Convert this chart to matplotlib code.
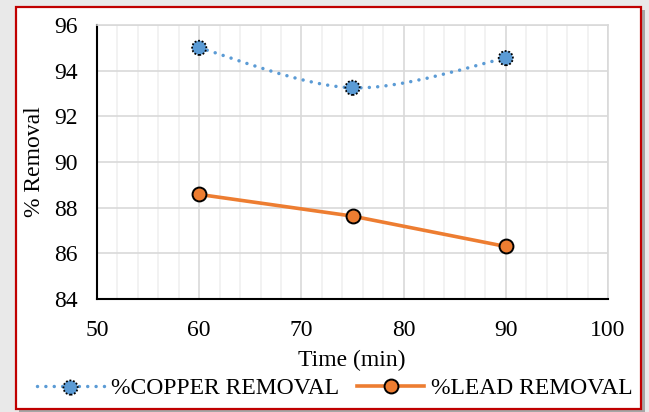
import numpy as np
import matplotlib.pyplot as plt
from matplotlib.path import Path
from matplotlib.patches import PathPatch, Rectangle
from matplotlib.lines import Line2D

plt.rcParams['font.family'] = ['Liberation Serif', 'DejaVu Serif']

# data
time_min = [60, 75, 90]
copper_removal = [95.0, 93.25, 94.55]
lead_removal = [88.58, 87.63, 86.3]

blue = '#5B9BD5'
orange = '#ED7D31'
fs = 17

fig = plt.figure(figsize=(6.49, 4.12), dpi=100)
fig.patch.set_facecolor('#E9E9E9')

# shadow and red frame of the chart box
W, H = 649, 412
fig.patches.append(Rectangle((19 / W, 1 - 412 / H), 626 / W, 402 / H,
                             transform=fig.transFigure, facecolor='#A6A6A6',
                             edgecolor='none', zorder=0))
fig.patches.append(Rectangle((16 / W, 1 - 409 / H), 625 / W, 402 / H,
                             transform=fig.transFigure, facecolor='white',
                             edgecolor='#C00000', linewidth=1.6, zorder=0))

ax = fig.add_axes([97 / W, 1 - 299 / H, 511 / W, 274 / H], zorder=2)
ax.set_facecolor('white')
ax.set_xlim(50, 100)
ax.set_ylim(84, 96)
ax.set_xticks(np.arange(50, 101, 10))
ax.set_xticks(np.arange(50, 101, 2), minor=True)
ax.set_yticks(np.arange(84, 97, 2))
ax.grid(which='major', color='#D9D9D9', linewidth=1.2)
ax.grid(which='minor', axis='x', color='#F0F0F0', linewidth=1.2)
ax.set_axisbelow(True)
ax.tick_params(which='both', length=0, labelsize=fs)
ax.tick_params(axis='x', pad=15)
ax.tick_params(axis='y', pad=14)
for s in ['top', 'right']:
    ax.spines[s].set_color('#D9D9D9')
    ax.spines[s].set_linewidth(1.2)
for s in ['left', 'bottom']:
    ax.spines[s].set_color('black')
    ax.spines[s].set_linewidth(1.5)

# smoothed copper line (Excel style bezier through the points)
pts = list(zip(time_min, copper_removal))
verts = [pts[0]]
codes = [Path.MOVETO]
n = len(pts)
for i in range(n - 1):
    p0 = np.array(pts[max(i - 1, 0)])
    p1 = np.array(pts[i])
    p2 = np.array(pts[i + 1])
    p3 = np.array(pts[min(i + 2, n - 1)])
    c1 = p1 + (p2 - p0) / 6
    c2 = p2 - (p3 - p1) / 6
    verts += [tuple(c1), tuple(c2), tuple(p2)]
    codes += [Path.CURVE4] * 3
dot_style = (0, (0.01, 2.4))
ax.add_patch(PathPatch(Path(verts, codes), facecolor='none', edgecolor=blue,
                       linewidth=2.5, linestyle=dot_style, capstyle='round', zorder=3))
cu_pts = ax.scatter(time_min, copper_removal, s=105, color=blue, edgecolors='black',
                    linewidths=1.3, linestyles=(0, (1, 1)), zorder=4)

ax.plot(time_min, lead_removal, color=orange, linewidth=2.6, marker='o',
        markersize=10, markerfacecolor=orange, markeredgecolor='black',
        markeredgewidth=1.4, zorder=4)

fig.text(34 / W, 1 - 162 / H, '% Removal', rotation=90, ha='center', va='center', fontsize=fs)
fig.text(352 / W, 1 - 360 / H, 'Time (min)', ha='center', va='center', fontsize=fs)

cu_line = Line2D([], [], color=blue, linewidth=2.5, linestyle=dot_style,
                 dash_capstyle='round')
pb_line = Line2D([], [], color=orange, linewidth=2.6, marker='o', markersize=10,
                 markerfacecolor=orange, markeredgecolor='black', markeredgewidth=1.4)
fig.legend([(cu_line, cu_pts), pb_line], ['%COPPER REMOVAL', '%LEAD REMOVAL'],
           loc='center', bbox_to_anchor=(335 / W, 1 - 388 / H), ncol=2, frameon=False,
           fontsize=fs, handlelength=2.85, handletextpad=0.3, columnspacing=0.75,
           scatterpoints=1, borderpad=0)

fig.savefig('out.png', dpi=100, facecolor=fig.get_facecolor())
